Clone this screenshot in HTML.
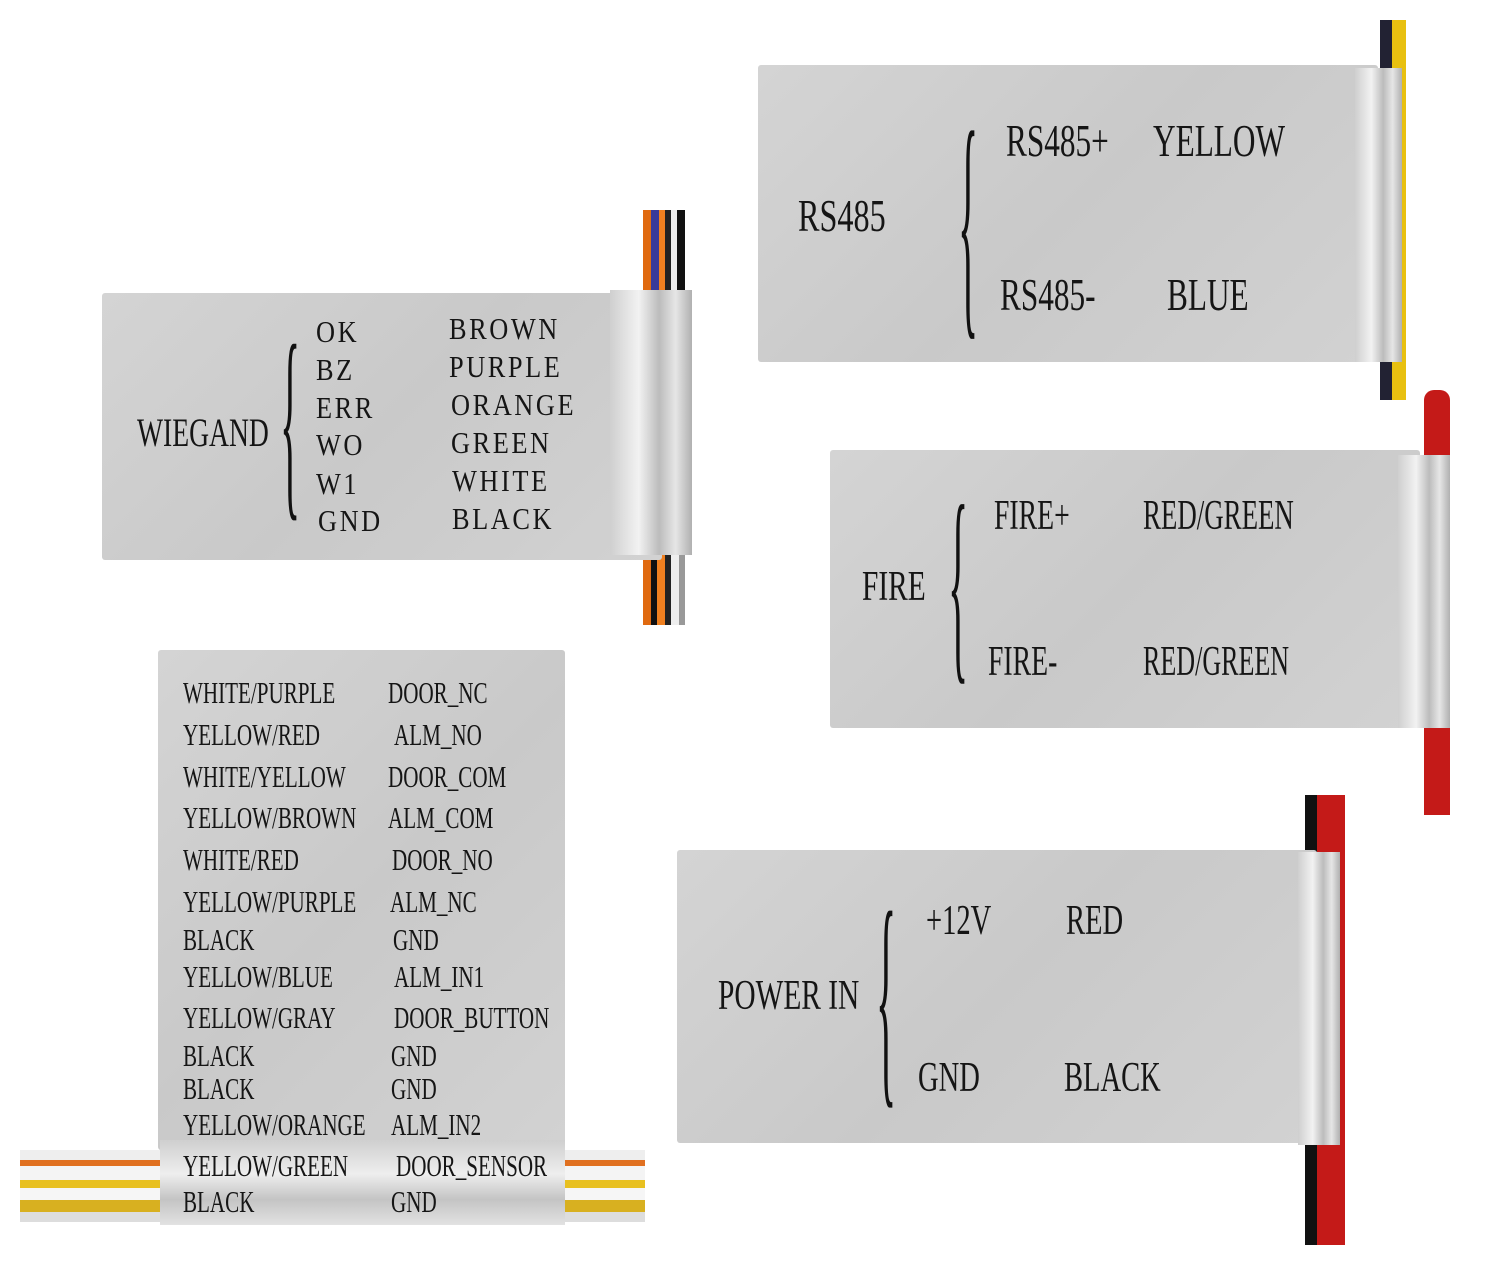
<!DOCTYPE html>
<html><head><meta charset="utf-8"><style>
body{margin:0;width:1500px;height:1268px;background:#fff;position:relative;overflow:hidden;font-family:"Liberation Serif",serif;}
.lab{position:absolute;background:linear-gradient(135deg,#d4d4d4,#c9c9c9 50%,#d2d2d2);border-radius:3px}
.fold{position:absolute;background:linear-gradient(90deg,#cfcfcf,#f2f2f2 35%,#bcbcbc 60%,#e6e6e6 80%,#b0b0b0)}
.t{position:absolute;color:#151515;white-space:nowrap;transform-origin:0 0;transform:scaleX(0.7);line-height:1}
.s{position:absolute;color:#151515;white-space:nowrap;transform-origin:0 0;transform:scaleX(0.68);line-height:1;font-size:31px}
.wg{position:absolute;color:#151515;white-space:nowrap;transform-origin:0 0;transform:scaleX(0.85);letter-spacing:3px;line-height:1;font-size:31px}
.w{position:absolute}
.br{position:absolute;color:#111;font-family:"Liberation Serif",serif;transform-origin:0 0;line-height:1}
</style></head><body>

<div class="w" style="left:643px;top:210px;width:42px;height:90px;background:linear-gradient(90deg,#e06a10 0 8px,#3a3a9a 8px 16px,#f08020 16px 22px,#222 22px 28px,#eee 28px 34px,#111 34px)"></div>
<div class="w" style="left:643px;top:550px;width:42px;height:75px;background:linear-gradient(90deg,#e06a10 0 8px,#111 8px 14px,#f08020 14px 22px,#222 22px 28px,#eee 28px 36px,#999 36px)"></div>
<div class="lab" style="left:102px;top:293px;width:560px;height:267px"></div>
<div class="fold" style="left:610px;top:290px;width:82px;height:265px"></div>
<div class="t" style="left:137px;top:413px;font-size:40px;transform:scaleX(0.69)">WIEGAND</div>
<div class="br" style="left:280px;top:318px;font-size:70px;transform:scale(0.6,3.05)">{</div>
<div class="wg" style="left:316px;top:316px">OK</div>
<div class="wg" style="left:316px;top:354px">BZ</div>
<div class="wg" style="left:316px;top:392px">ERR</div>
<div class="wg" style="left:316px;top:429px">WO</div>
<div class="wg" style="left:316px;top:468px">W1</div>
<div class="wg" style="left:318px;top:505px">GND</div>
<div class="wg" style="left:449px;top:313px">BROWN</div>
<div class="wg" style="left:449px;top:351px">PURPLE</div>
<div class="wg" style="left:451px;top:389px">ORANGE</div>
<div class="wg" style="left:451px;top:427px">GREEN</div>
<div class="wg" style="left:452px;top:465px">WHITE</div>
<div class="wg" style="left:452px;top:503px">BLACK</div>

<div class="w" style="left:1380px;top:20px;width:26px;height:380px;background:linear-gradient(90deg,#223 0 12px,#e8c010 12px)"></div>
<div class="lab" style="left:758px;top:65px;width:620px;height:297px"></div>
<div class="fold" style="left:1355px;top:68px;width:47px;height:294px"></div>
<div class="t" style="left:798px;top:193px;font-size:46px;transform:scaleX(0.7)">RS485</div>
<div class="br" style="left:958px;top:100px;font-size:70px;transform:scale(0.6,3.6)">{</div>
<div class="t" style="left:1006px;top:118px;font-size:46px;transform:scaleX(0.68)">RS485+</div>
<div class="t" style="left:1153px;top:118px;font-size:46px;transform:scaleX(0.68)">YELLOW</div>
<div class="t" style="left:1000px;top:272px;font-size:46px;transform:scaleX(0.68)">RS485-</div>
<div class="t" style="left:1167px;top:272px;font-size:46px;transform:scaleX(0.68)">BLUE</div>

<div class="w" style="left:1424px;top:390px;width:26px;height:425px;background:#c41a18;border-radius:10px 10px 0 0"></div>
<div class="lab" style="left:830px;top:450px;width:590px;height:278px"></div>
<div class="fold" style="left:1398px;top:455px;width:52px;height:273px"></div>
<div class="t" style="left:862px;top:566px;font-size:42px;transform:scaleX(0.7)">FIRE</div>
<div class="br" style="left:948px;top:478px;font-size:70px;transform:scale(0.6,3.1)">{</div>
<div class="t" style="left:994px;top:495px;font-size:42px;transform:scaleX(0.66)">FIRE+</div>
<div class="t" style="left:1143px;top:495px;font-size:42px;transform:scaleX(0.64)">RED/GREEN</div>
<div class="t" style="left:988px;top:641px;font-size:42px;transform:scaleX(0.66)">FIRE-</div>
<div class="t" style="left:1143px;top:641px;font-size:42px;transform:scaleX(0.62)">RED/GREEN</div>

<div class="w" style="left:1305px;top:795px;width:48px;height:450px;background:linear-gradient(90deg,#111 0 12px,#c41a18 12px 40px,transparent 40px)"></div>
<div class="lab" style="left:677px;top:850px;width:640px;height:293px"></div>
<div class="fold" style="left:1298px;top:852px;width:42px;height:293px"></div>
<div class="t" style="left:718px;top:975px;font-size:42px;transform:scaleX(0.7)">POWER IN</div>
<div class="br" style="left:876px;top:882px;font-size:70px;transform:scale(0.6,3.4)">{</div>
<div class="t" style="left:926px;top:900px;font-size:42px;transform:scaleX(0.68)">+12V</div>
<div class="t" style="left:1066px;top:900px;font-size:42px;transform:scaleX(0.68)">RED</div>
<div class="t" style="left:918px;top:1057px;font-size:42px;transform:scaleX(0.68)">GND</div>
<div class="t" style="left:1064px;top:1057px;font-size:42px;transform:scaleX(0.68)">BLACK</div>

<div class="w" style="left:20px;top:1150px;width:625px;height:72px;background:linear-gradient(180deg,#eee 0 10px,#e07020 10px 16px,#f4f4f4 16px 30px,#e8c020 30px 38px,#f6f6f6 38px 50px,#d8b020 50px 62px,#ddd 62px)"></div>
<div class="lab" style="left:158px;top:650px;width:407px;height:500px"></div>
<div class="fold" style="left:160px;top:1140px;width:405px;height:85px;background:linear-gradient(180deg,#cfcfcf,#eeeeee 40%,#c4c4c4 70%,#e2e2e2)"></div>

<div class="s" style="left:183px;top:677px">WHITE/PURPLE</div>
<div class="s" style="left:183px;top:719px">YELLOW/RED</div>
<div class="s" style="left:183px;top:761px">WHITE/YELLOW</div>
<div class="s" style="left:183px;top:802px">YELLOW/BROWN</div>
<div class="s" style="left:183px;top:844px">WHITE/RED</div>
<div class="s" style="left:183px;top:886px">YELLOW/PURPLE</div>
<div class="s" style="left:183px;top:924px">BLACK</div>
<div class="s" style="left:183px;top:961px">YELLOW/BLUE</div>
<div class="s" style="left:183px;top:1002px">YELLOW/GRAY</div>
<div class="s" style="left:183px;top:1040px">BLACK</div>
<div class="s" style="left:183px;top:1073px">BLACK</div>
<div class="s" style="left:183px;top:1109px">YELLOW/ORANGE</div>
<div class="s" style="left:183px;top:1150px">YELLOW/GREEN</div>
<div class="s" style="left:183px;top:1186px">BLACK</div>

<div class="s" style="left:388px;top:677px">DOOR_NC</div>
<div class="s" style="left:394px;top:719px">ALM_NO</div>
<div class="s" style="left:388px;top:761px">DOOR_COM</div>
<div class="s" style="left:388px;top:802px">ALM_COM</div>
<div class="s" style="left:392px;top:844px">DOOR_NO</div>
<div class="s" style="left:390px;top:886px">ALM_NC</div>
<div class="s" style="left:393px;top:924px">GND</div>
<div class="s" style="left:394px;top:961px">ALM_IN1</div>
<div class="s" style="left:394px;top:1002px">DOOR_BUTTON</div>
<div class="s" style="left:391px;top:1040px">GND</div>
<div class="s" style="left:391px;top:1073px">GND</div>
<div class="s" style="left:391px;top:1109px">ALM_IN2</div>
<div class="s" style="left:396px;top:1150px">DOOR_SENSOR</div>
<div class="s" style="left:391px;top:1186px">GND</div>
</body></html>
